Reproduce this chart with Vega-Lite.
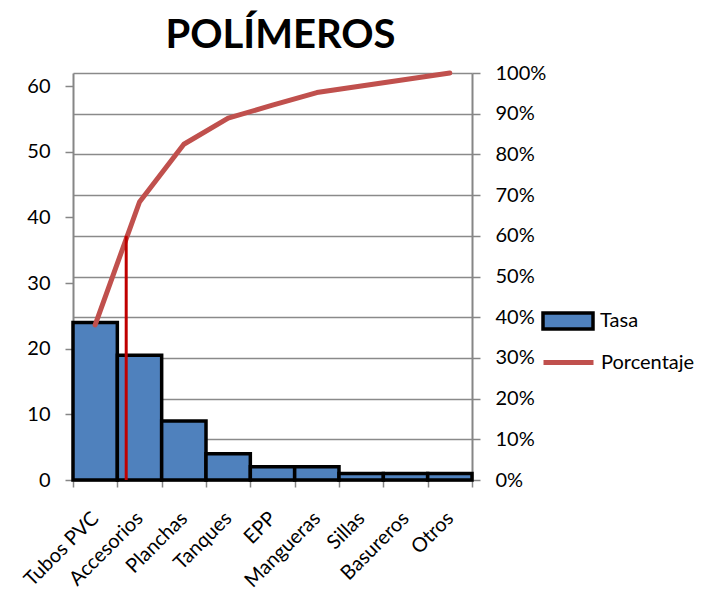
{
  "$schema": "https://vega.github.io/schema/vega-lite/v6.json",
  "autosize": "none",
  "width": 399,
  "height": 407,
  "padding": {"left": 73, "top": 73, "right": 236, "bottom": 118},
  "background": "white",
  "config": {
    "font": "Lato",
    "view": {"stroke": null},
    "axis": {"labelFont": "Lato", "labelFontSize": 20, "labelColor": "#000000", "domainColor": "#868686", "domainWidth": 2, "tickColor": "#868686", "tickWidth": 1.5, "tickSize": 8, "gridColor": "#8a8a8a", "gridWidth": 1.5},
    "legend": {"labelFont": "Lato", "labelFontSize": 20, "labelColor": "#000000"}
  },
  "title": {"text": "POLÍMEROS", "font": "Lato", "fontSize": 40, "fontWeight": "bold", "color": "#000000", "anchor": "middle", "offset": 7, "dx": 8},
  "data": {
    "values": [
      {"categoria": "Tubos PVC", "tasa": 24, "porcentaje": 0.381},
      {"categoria": "Accesorios", "tasa": 19, "porcentaje": 0.683},
      {"categoria": "Planchas", "tasa": 9, "porcentaje": 0.825},
      {"categoria": "Tanques", "tasa": 4, "porcentaje": 0.889},
      {"categoria": "EPP", "tasa": 2, "porcentaje": 0.921},
      {"categoria": "Mangueras", "tasa": 2, "porcentaje": 0.952},
      {"categoria": "Sillas", "tasa": 1, "porcentaje": 0.968},
      {"categoria": "Basureros", "tasa": 1, "porcentaje": 0.984},
      {"categoria": "Otros", "tasa": 1, "porcentaje": 1.0}
    ]
  },
  "encoding": {
    "x": {
      "field": "categoria", "type": "nominal", "sort": null, "title": null,
      "scale": {"paddingInner": 0, "paddingOuter": 0},
      "axis": {"labelAngle": -45, "labelAlign": "right", "labelBaseline": "middle", "labelPadding": 28, "tickBand": "extent", "tickSize": 7}
    }
  },
  "layer": [
    {
      "mark": {"type": "bar", "stroke": "#000000", "strokeWidth": 3.5},
      "encoding": {
        "y": {
          "field": "tasa", "type": "quantitative", "title": null,
          "scale": {"domain": [0, 62], "nice": false},
          "axis": {"orient": "left", "values": [0, 10, 20, 30, 40, 50, 60], "grid": false, "labelPadding": 15}
        },
        "fill": {
          "datum": "Tasa", "type": "nominal",
          "scale": {"range": ["#4F81BD"]},
          "legend": {"title": null, "orient": "none", "legendX": 468, "legendY": 221, "symbolType": "M-1,-0.32H1V0.32H-1Z", "symbolSize": 2500, "symbolStrokeColor": "#000000", "symbolStrokeWidth": 3.5, "labelOffset": 5}
        }
      }
    },
    {
      "layer": [
        {
          "mark": {"type": "line", "strokeWidth": 5, "strokeCap": "round", "strokeJoin": "round"},
          "encoding": {
            "y": {
              "field": "porcentaje", "type": "quantitative", "title": null,
              "scale": {"domain": [0, 1], "nice": false},
              "axis": {"orient": "right", "values": [0, 0.1, 0.2, 0.3, 0.4, 0.5, 0.6, 0.7, 0.8, 0.9, 1], "format": ".0%", "grid": true, "labelPadding": 15}
            },
            "stroke": {
              "datum": "Porcentaje", "type": "nominal",
              "scale": {"range": ["#C0504D"]},
              "legend": {"title": null, "orient": "none", "legendX": 468, "legendY": 262, "symbolType": "stroke", "symbolSize": 2500, "symbolStrokeWidth": 5, "labelOffset": 5}
            }
          }
        },
        {
          "data": {"values": [{"categoria": "Accesorios", "corte": 0.6}]},
          "mark": {"type": "rule", "color": "#C00000", "strokeWidth": 3},
          "encoding": {
            "x": {"field": "categoria", "type": "nominal", "sort": null, "bandPosition": 0.2},
            "y": {"field": "corte", "type": "quantitative"},
            "y2": {"datum": 0}
          }
        }
      ]
    }
  ],
  "resolve": {"scale": {"y": "independent", "fill": "independent", "stroke": "independent"}}
}
